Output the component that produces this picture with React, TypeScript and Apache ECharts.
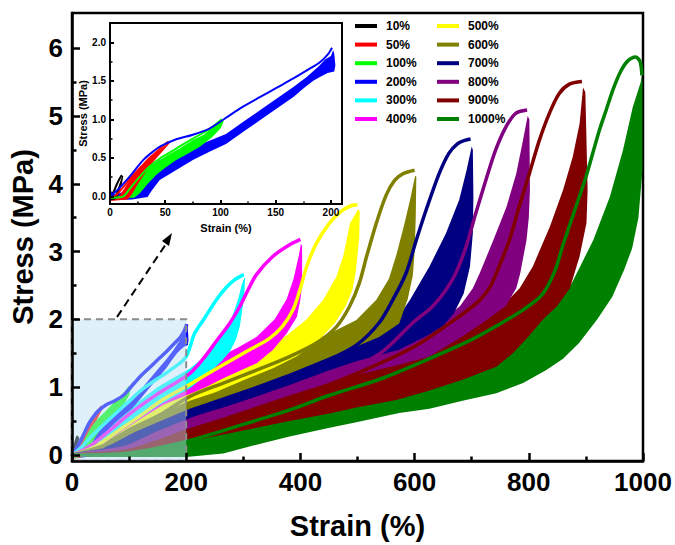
import React, { useEffect, useRef } from 'react';
import * as echarts from 'echarts';

// Cyclic tensile test: stress–strain hysteresis loops at increasing maximum strain.
const levelNames = ['10%', '50%', '100%', '200%', '300%', '400%', '500%', '600%', '700%', '800%', '900%', '1000%'];
const levelColors = ['#000000', '#ff0000', '#00ff00', '#0000ff', '#00ffff', '#ff00ff', '#ffff00', '#808000', '#000080', '#800080', '#800000', '#008000'];

// First loading curve of each level: [strain %, stress MPa]
const load10 = [[0, -0.02], [2, 0.02], [4, 0.08], [6, 0.15], [8, 0.21], [10, 0.26], [11, 0.27]];
const load50 = [[0, -0.03], [6, 0.02], [12, 0.12], [20, 0.26], [28, 0.38], [36, 0.5], [44, 0.6], [50, 0.68], [53, 0.71]];
const load100 = [[0, -0.02], [12, 0.0], [18, 0.1], [26, 0.24], [36, 0.39], [46, 0.5], [60, 0.62], [75, 0.75], [90, 0.87], [101, 1.0]];
const load200 = [[0, 0], [8, 0.1], [15, 0.21], [22, 0.33], [30, 0.47], [38, 0.57], [46, 0.65], [60, 0.74], [75, 0.8], [90, 0.88], [105, 1.02], [120, 1.16], [136, 1.29], [151, 1.41], [166, 1.53], [180, 1.65], [190, 1.74], [197, 1.84], [201, 1.93]];
const load300 = [[0, 0], [15, 0.1], [37, 0.3], [66, 0.53], [96, 0.76], [125, 0.98], [160, 1.18], [190, 1.36], [200, 1.45], [207, 1.6], [214, 1.78], [230, 1.99], [253, 2.29], [270, 2.47], [284, 2.58], [294, 2.63], [301, 2.66]];
const load400 = [[0, 0], [30, 0.12], [66, 0.36], [100, 0.6], [150, 0.9], [206, 1.2], [230, 1.42], [253, 1.68], [276, 1.94], [294, 2.19], [308, 2.43], [323, 2.66], [352, 2.93], [381, 3.1], [400, 3.18]];
const load500 = [[0, 0], [40, 0.12], [80, 0.35], [120, 0.58], [160, 0.82], [206, 1.04], [265, 1.33], [311, 1.55], [346, 1.72], [369, 1.9], [387, 2.14], [399, 2.43], [411, 2.78], [428, 3.12], [451, 3.42], [474, 3.61], [490, 3.68], [500, 3.69]];
const load600 = [[0, 0], [60, 0.15], [120, 0.42], [160, 0.62], [206, 0.86], [265, 1.06], [323, 1.25], [381, 1.45], [428, 1.65], [463, 1.89], [486, 2.19], [503, 2.53], [516, 2.93], [533, 3.42], [550, 3.83], [565, 4.05], [580, 4.15], [600, 4.2]];
const load700 = [[0, 0], [80, 0.12], [150, 0.38], [206, 0.57], [265, 0.75], [323, 0.95], [381, 1.15], [439, 1.36], [498, 1.62], [538, 1.95], [562, 2.29], [585, 2.68], [603, 3.17], [620, 3.61], [643, 4.15], [660, 4.45], [675, 4.59], [688, 4.64], [698, 4.66]];
const load800 = [[0, 0], [100, 0.12], [206, 0.42], [265, 0.58], [350, 0.82], [451, 1.12], [540, 1.5], [597, 1.95], [630, 2.18], [652, 2.4], [672, 2.68], [690, 3.07], [707, 3.56], [725, 4.06], [742, 4.5], [760, 4.84], [777, 5.04], [797, 5.09]];
const load900 = [[0, 0], [100, 0.06], [206, 0.3], [300, 0.58], [400, 0.88], [498, 1.2], [600, 1.6], [671, 2.0], [710, 2.25], [731, 2.46], [748, 2.78], [766, 3.17], [783, 3.66], [801, 4.15], [818, 4.63], [836, 5.04], [853, 5.33], [871, 5.47], [893, 5.51]];
const load1000 = [[0, 0], [100, 0.03], [200, 0.2], [300, 0.45], [380, 0.66], [451, 0.88], [540, 1.12], [626, 1.42], [700, 1.7], [743, 1.9], [790, 2.14], [823, 2.36], [845, 2.7], [860, 3.1], [880, 3.6], [900, 4.1], [912, 4.45], [924, 4.8], [936, 5.1], [947, 5.38], [961, 5.66], [973, 5.81], [987, 5.87], [995, 5.8], [998, 5.6]];

// Repeated cycles: upper edge of the band (from the peak down to the residual strain)
const top10 = [[11, 0.27], [10, 0.22], [8, 0.14], [6, 0.06], [4, 0.0], [0, -0.02]];
const top50 = [[53, 0.7], [47, 0.62], [40, 0.55], [33, 0.46], [26, 0.36], [19, 0.24], [13, 0.1], [8, 0.0], [0, -0.03]];
const top100 = [[101, 0.99], [95, 0.92], [85, 0.8], [75, 0.73], [63, 0.62], [54, 0.55], [44, 0.46], [36, 0.38], [28, 0.25], [21, 0.12], [15, 0.01], [0, -0.01]];
const top200 = [[202, 1.9], [200, 1.82], [195, 1.78], [189, 1.69], [178, 1.55], [166, 1.42], [151, 1.27], [136, 1.12], [120, 0.96], [105, 0.81], [90, 0.72], [75, 0.64], [60, 0.56], [45, 0.47], [37, 0.39], [30, 0.29], [21, 0.17], [12, 0.06], [5, 0.02], [0, 0.08]];
const top300 = [[302, 2.62], [297, 2.5], [291, 2.3], [283, 2.1], [276, 1.94], [259, 1.72], [235, 1.47], [206, 1.27], [180, 1.15], [150, 1.0], [125, 0.84], [96, 0.66], [66, 0.45], [37, 0.24], [15, 0.05], [0, 0]];
const top400 = [[401, 3.12], [397, 2.93], [388, 2.6], [376, 2.3], [355, 2.0], [323, 1.74], [294, 1.6], [253, 1.42], [206, 1.18], [160, 0.95], [125, 0.74], [96, 0.58], [66, 0.4], [37, 0.2], [15, 0.03], [0, 0]];
const top500 = [[501, 3.62], [487, 3.42], [475, 2.93], [463, 2.63], [440, 2.29], [411, 2.0], [376, 1.76], [323, 1.52], [265, 1.3], [206, 1.06], [150, 0.8], [100, 0.55], [60, 0.3], [30, 0.08], [0, 0]];
const top600 = [[601, 4.12], [592, 3.76], [581, 3.37], [568, 2.95], [555, 2.6], [533, 2.29], [498, 1.99], [451, 1.79], [399, 1.6], [323, 1.38], [265, 1.18], [206, 0.95], [150, 0.72], [100, 0.48], [60, 0.26], [30, 0.06], [0, 0]];
const top700 = [[700, 4.55], [691, 4.2], [678, 3.76], [655, 3.27], [626, 2.78], [592, 2.29], [568, 1.99], [538, 1.82], [498, 1.68], [451, 1.5], [381, 1.28], [323, 1.08], [265, 0.9], [206, 0.72], [150, 0.52], [100, 0.32], [50, 0.1], [0, 0]];
const top800 = [[798, 5.0], [790, 4.65], [778, 4.15], [761, 3.66], [738, 3.17], [714, 2.68], [702, 2.46], [680, 2.2], [650, 1.98], [610, 1.8], [560, 1.62], [498, 1.42], [451, 1.3], [381, 1.08], [323, 0.9], [265, 0.74], [206, 0.58], [150, 0.4], [100, 0.22], [60, 0.08], [0, 0]];
const top900 = [[895, 5.42], [889, 4.89], [877, 4.4], [860, 3.91], [837, 3.37], [807, 2.78], [784, 2.46], [760, 2.25], [728, 2.05], [684, 1.8], [626, 1.5], [573, 1.38], [498, 1.23], [451, 1.1], [381, 0.92], [323, 0.76], [265, 0.6], [206, 0.46], [150, 0.32], [100, 0.16], [50, 0.03], [0, 0]];
const top1000 = [[998, 5.6], [996, 5.5], [982, 5.13], [965, 4.5], [942, 3.81], [913, 3.17], [884, 2.68], [872, 2.48], [851, 2.24], [825, 2.04], [773, 1.55], [743, 1.35], [684, 1.16], [626, 1.0], [568, 0.86], [498, 0.75], [451, 0.66], [381, 0.55], [323, 0.45], [265, 0.35], [206, 0.25], [150, 0.15], [100, 0.08], [0, 0.05]];

// Repeated cycles: lower edge of the band
const bot10 = [[12, 0.26], [11, 0.18], [9, 0.08], [7, 0.0], [5, -0.04], [0, -0.05]];
const bot50 = [[54, 0.69], [51, 0.64], [46, 0.56], [40, 0.46], [33, 0.33], [26, 0.18], [20, 0.03], [16, -0.04], [0, -0.06]];
const bot100 = [[103, 0.97], [100, 0.88], [92, 0.76], [81, 0.64], [70, 0.55], [60, 0.47], [50, 0.37], [42, 0.28], [34, 0.16], [27, 0.04], [22, -0.02], [0, -0.03]];
const bot200 = [[203, 1.85], [204, 1.7], [203, 1.62], [197, 1.6], [190, 1.55], [184, 1.5], [175, 1.4], [166, 1.29], [151, 1.14], [136, 0.99], [120, 0.83], [105, 0.68], [90, 0.58], [75, 0.47], [60, 0.34], [45, 0.21], [38, 0.08], [34, -0.01], [20, -0.04], [0, -0.05]];
const bot300 = [[303, 2.6], [302, 2.4], [299, 2.19], [294, 1.9], [287, 1.7], [276, 1.52], [262, 1.38], [241, 1.22], [206, 0.98], [180, 0.86], [150, 0.72], [125, 0.58], [96, 0.44], [66, 0.28], [37, 0.1], [22, 0.0], [0, -0.03]];
const bot400 = [[403, 3.08], [403, 2.5], [400, 2.29], [394, 2.04], [376, 1.79], [352, 1.55], [323, 1.35], [294, 1.24], [265, 1.13], [235, 1.0], [206, 0.9], [160, 0.74], [125, 0.56], [96, 0.4], [66, 0.23], [37, 0.06], [28, 0.0], [0, -0.03]];
const bot500 = [[504, 3.6], [503, 3.2], [497, 2.7], [491, 2.43], [479, 2.19], [460, 1.94], [430, 1.67], [393, 1.45], [352, 1.28], [323, 1.18], [294, 1.08], [250, 0.92], [206, 0.8], [150, 0.6], [100, 0.4], [60, 0.2], [40, 0.04], [0, -0.03]];
const bot600 = [[603, 4.1], [602, 3.5], [600, 3.0], [597, 2.65], [588, 2.3], [573, 1.94], [538, 1.74], [498, 1.6], [451, 1.44], [381, 1.2], [323, 1.02], [265, 0.85], [206, 0.68], [150, 0.48], [100, 0.3], [60, 0.14], [45, 0.0], [0, -0.03]];
const bot700 = [[702, 4.5], [703, 3.8], [702, 3.27], [697, 2.78], [686, 2.38], [669, 2.09], [649, 1.9], [620, 1.75], [573, 1.55], [498, 1.38], [451, 1.25], [381, 1.03], [323, 0.86], [265, 0.7], [206, 0.55], [150, 0.38], [100, 0.2], [60, 0.06], [45, 0.0], [0, -0.03]];
const bot800 = [[801, 4.95], [802, 3.9], [800, 3.5], [796, 3.17], [785, 2.68], [778, 2.46], [760, 2.2], [728, 2.0], [684, 1.75], [626, 1.45], [573, 1.33], [498, 1.18], [451, 1.06], [381, 0.88], [323, 0.72], [265, 0.55], [206, 0.42], [150, 0.28], [100, 0.12], [60, 0.0], [0, -0.03]];
const bot900 = [[899, 5.35], [901, 4.65], [903, 3.91], [901, 3.42], [889, 2.93], [872, 2.46], [850, 2.2], [824, 1.99], [800, 1.75], [772, 1.5], [743, 1.3], [684, 1.11], [626, 0.95], [568, 0.81], [498, 0.7], [451, 0.61], [381, 0.5], [323, 0.4], [265, 0.3], [206, 0.2], [150, 0.1], [100, 0.02], [80, 0.0], [0, -0.03]];
const bot1000 = [[999, 5.5], [999, 4.2], [992, 3.5], [981, 3.05], [967, 2.73], [946, 2.33], [920, 2.0], [888, 1.65], [860, 1.42], [830, 1.25], [790, 1.06], [743, 0.91], [684, 0.8], [626, 0.68], [573, 0.62], [498, 0.48], [451, 0.4], [381, 0.27], [323, 0.15], [265, 0.02], [200, -0.03], [0, -0.03]];

const loadCurves = [load10, load50, load100, load200, load300, load400, load500, load600, load700, load800, load900, load1000];
const bandTops = [top10, top50, top100, top200, top300, top400, top500, top600, top700, top800, top900, top1000];
const bandBottoms = [bot10, bot50, bot100, bot200, bot300, bot400, bot500, bot600, bot700, bot800, bot900, bot1000];
const insetLevelCount = 4; // 10% .. 200%

// Axis ticks
const mainXTicks = [0, 200, 400, 600, 800, 1000];
const mainXMinor = [100, 300, 500, 700, 900];
const mainYTicks = [0, 1, 2, 3, 4, 5, 6];
const mainYMinor = [0.5, 1.5, 2.5, 3.5, 4.5, 5.5];
const insetXTicks = [0, 50, 100, 150, 200];
const insetXMinor = [25, 75, 125, 175];
const insetYTicks = [0, 0.5, 1, 1.5, 2];
const insetYMinor = [0.25, 0.75, 1.25, 1.75];

// Region enlarged in the inset: [strain, stress] corners
const zoomRegion = [[0, -0.09], [200, 2.0]];

const FONT = '"Liberation Sans", Arial, sans-serif';

function bandPolygon(i: number) {
  return bandTops[i].concat(bandBottoms[i].slice().reverse());
}

function bandSeries(i: number, xi: number, yi: number, z: number) {
  const poly = bandPolygon(i);
  return {
    type: 'custom',
    name: levelNames[i] + ' cycles',
    xAxisIndex: xi,
    yAxisIndex: yi,
    z,
    silent: true,
    clip: true,
    data: poly,
    encode: { x: 0, y: 1 },
    renderItem: (params: any, api: any) => {
      if (params.dataIndex !== 0) return null;
      const pts = poly.map((p) => api.coord(p));
      return { type: 'polygon', shape: { points: pts }, style: { fill: levelColors[i] } };
    },
  };
}

function loadSeries(i: number, xi: number, yi: number, z: number, width: number) {
  return {
    type: 'line',
    name: levelNames[i],
    xAxisIndex: xi,
    yAxisIndex: yi,
    z,
    silent: true,
    clip: true,
    data: loadCurves[i],
    showSymbol: false,
    smooth: 0.3,
    lineStyle: { color: levelColors[i], width },
    itemStyle: { color: levelColors[i] },
  };
}

function valueAxis(grid: number, min: number, max: number, ticks: number[], opts: any) {
  return {
    type: 'value',
    gridIndex: grid,
    min,
    max,
    splitLine: { show: false },
    axisLine: { show: true, onZero: false, lineStyle: { color: '#000', width: opts.lineWidth } },
    axisTick: { show: true, inside: true, length: opts.tickLen, customValues: ticks, lineStyle: { color: '#000', width: opts.lineWidth } },
    axisLabel: {
      show: true,
      customValues: ticks,
      margin: opts.margin,
      color: '#000',
      fontFamily: FONT,
      fontWeight: 'bold',
      fontSize: opts.fontSize,
      formatter: opts.formatter,
    },
    name: opts.name,
    nameLocation: 'middle',
    nameGap: opts.nameGap,
    nameTextStyle: { color: '#000', fontFamily: FONT, fontWeight: 'bold', fontSize: opts.nameSize },
    z: opts.z,
    position: opts.position,
  };
}

function minorAxis(grid: number, min: number, max: number, ticks: number[], len: number, width: number, position: string, z: number) {
  return {
    type: 'value',
    gridIndex: grid,
    min,
    max,
    position,
    z,
    splitLine: { show: false },
    axisLine: { show: false, onZero: false },
    axisLabel: { show: false },
    axisTick: { show: true, inside: true, length: len, customValues: ticks, lineStyle: { color: '#000', width } },
  };
}

const plainNumber = (v: number) => String(v);

function buildOption() {
  const series: any[] = [];
  // main chart: bands from largest strain to smallest, loading curves on top
  for (let i = levelNames.length - 1; i >= 0; i--) series.push(bandSeries(i, 0, 0, 2));
  for (let i = 0; i < levelNames.length; i++) series.push(loadSeries(i, 0, 0, 2, 3.5));
  // shaded region that is enlarged in the inset
  series.push({
    type: 'custom',
    name: 'zoom region',
    xAxisIndex: 0,
    yAxisIndex: 0,
    z: 3,
    silent: true,
    data: zoomRegion,
    encode: { x: 0, y: 1 },
    renderItem: (params: any, api: any) => {
      if (params.dataIndex !== 0) return null;
      const a = api.coord(zoomRegion[0]);
      const b = api.coord(zoomRegion[1]);
      return {
        type: 'rect',
        shape: { x: a[0], y: b[1], width: b[0] - a[0], height: a[1] - b[1] },
        style: { fill: 'rgba(186,222,244,0.45)', stroke: '#8c8c8c', lineWidth: 2, lineDash: [7, 5] },
      };
    },
  });
  // inset
  for (let i = insetLevelCount - 1; i >= 0; i--) series.push(bandSeries(i, 2, 2, 6));
  for (let i = 0; i < insetLevelCount; i++) series.push(loadSeries(i, 2, 2, 6, 2));

  const legendText = { fontSize: 12, fontWeight: 'bold', fontFamily: FONT, color: '#000', lineHeight: 14, padding: [0, 0, 0, 4] };
  const legendCommon = {
    orient: 'vertical',
    top: 19,
    padding: 0,
    itemGap: 4.6,
    itemWidth: 22,
    itemHeight: 4,
    icon: 'rect',
    selectedMode: false,
    textStyle: legendText,
  };

  return {
    animation: false,
    backgroundColor: '#fff',
    textStyle: { fontFamily: FONT },
    grid: [
      { left: 72, top: 13, width: 571, height: 448, show: true, borderColor: '#000', borderWidth: 2.5, backgroundColor: 'transparent' },
      { left: 110, top: 23, width: 232, height: 181, show: false },
    ],
    xAxis: [
      valueAxis(0, 0, 1000, mainXTicks, { lineWidth: 2.5, tickLen: 8, margin: 8, fontSize: 26, name: 'Strain (%)', nameGap: 50, nameSize: 29, z: 4, position: 'bottom', formatter: plainNumber }),
      minorAxis(0, 0, 1000, mainXMinor, 4.5, 2.5, 'bottom', 4),
      valueAxis(1, 0, 210, insetXTicks, { lineWidth: 2, tickLen: 4, margin: 3, fontSize: 10, name: 'Strain (%)', nameGap: 18, nameSize: 11, z: 10, position: 'bottom', formatter: plainNumber }),
      minorAxis(1, 0, 210, insetXMinor, 2.5, 1.5, 'bottom', 10),
    ],
    yAxis: [
      valueAxis(0, -0.09, 6.52, mainYTicks, { lineWidth: 2.5, tickLen: 8, margin: 9, fontSize: 26, name: 'Stress (MPa)', nameGap: 35, nameSize: 29, z: 4, position: 'left', formatter: plainNumber }),
      minorAxis(0, -0.09, 6.52, mainYMinor, 4.5, 2.5, 'left', 4),
      valueAxis(1, -0.1, 2.25, insetYTicks, { lineWidth: 2, tickLen: 4, margin: 4, fontSize: 10, name: 'Stress (MPa)', nameGap: 22, nameSize: 11, z: 10, position: 'left', formatter: (v: number) => v.toFixed(1) }),
      minorAxis(1, -0.1, 2.25, insetYMinor, 2.5, 1.5, 'left', 10),
    ],
    legend: [
      { ...legendCommon, left: 355, data: levelNames.slice(0, 6) },
      { ...legendCommon, left: 437, data: levelNames.slice(6) },
    ],
    graphic: [
      { type: 'rect', z: 5, silent: true, shape: { x: 110, y: 23, width: 232, height: 181 }, style: { fill: '#fff', stroke: '#000', lineWidth: 2 } },
      { type: 'line', z: 10, silent: true, shape: { x1: 117, y1: 317, x2: 168, y2: 241 }, style: { stroke: '#000', lineWidth: 2, lineDash: [8, 5] } },
      { type: 'polygon', z: 10, silent: true, shape: { points: [[172, 233], [162, 241], [169, 246]] }, style: { fill: '#000' } },
    ],
    series,
  };
}

export default function App() {
  const ref = useRef<HTMLDivElement>(null);
  useEffect(() => {
    if (!ref.current) return;
    const chart = echarts.init(ref.current, null, { renderer: 'svg' });
    chart.setOption(buildOption() as any);
    return () => chart.dispose();
  }, []);
  return <div ref={ref} style={{ position: 'fixed', left: 0, top: 0, width: 675, height: 545 }} />;
}
